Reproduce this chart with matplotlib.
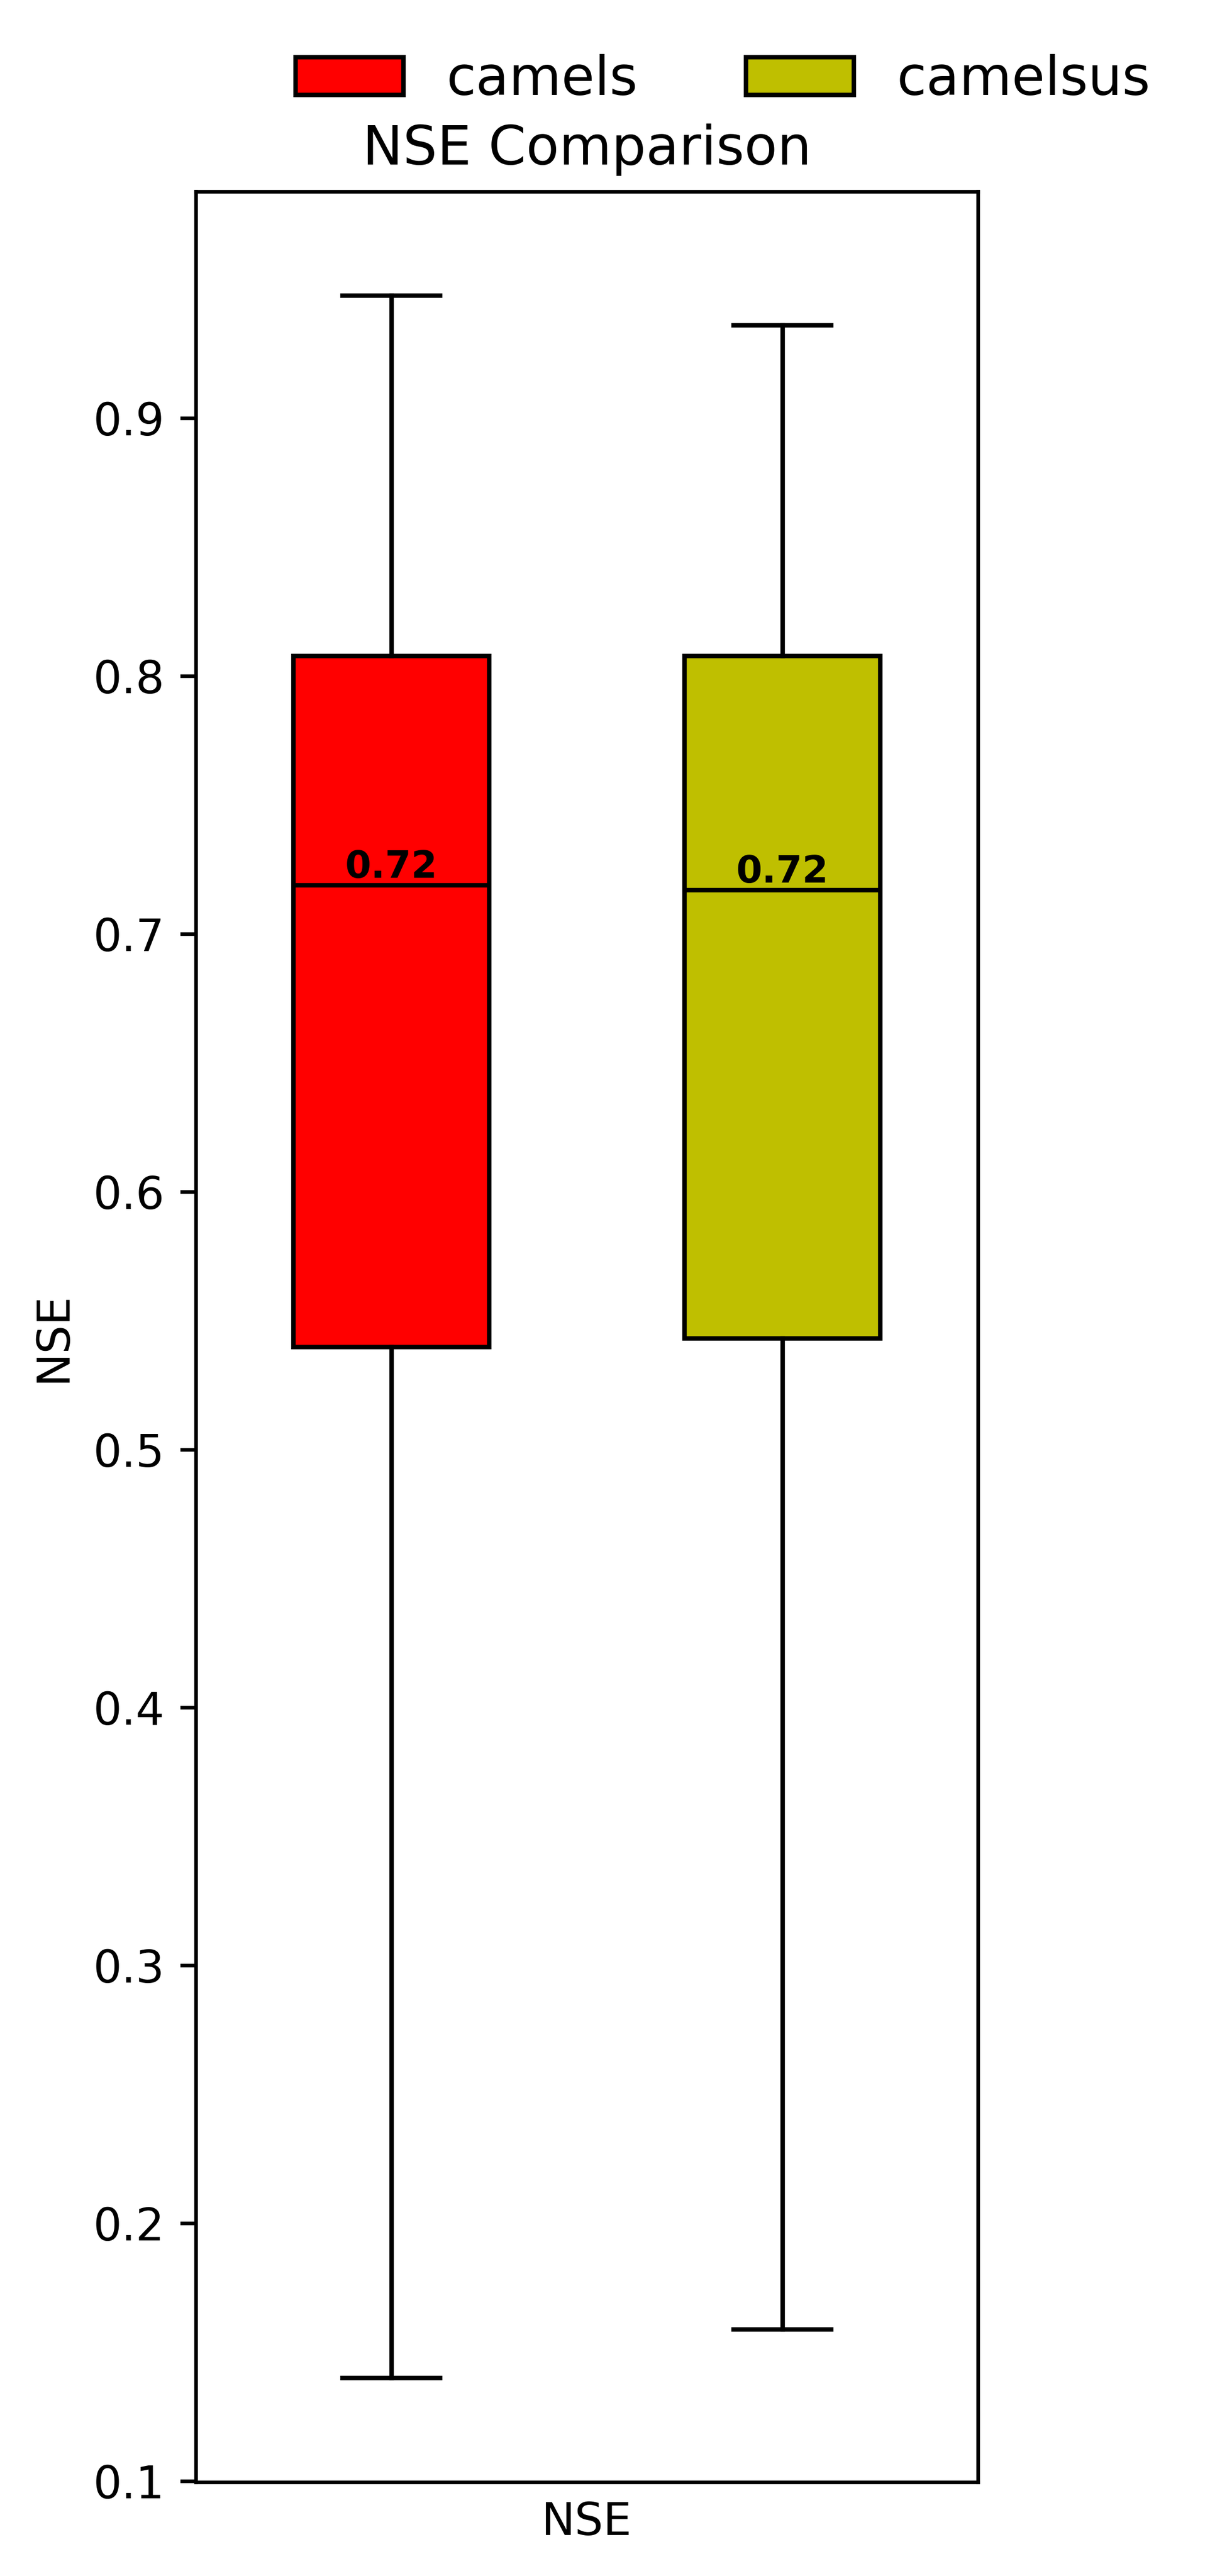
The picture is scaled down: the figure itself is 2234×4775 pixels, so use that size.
import numpy as np
import matplotlib
matplotlib.use("Agg")
import matplotlib.pyplot as plt
from matplotlib.patches import Patch

# box statistics
names = ['camels', 'camelsus']
colors = ['r', 'y']
whislo = [0.1400, 0.1588]
q1 = [0.5398, 0.5431]
med = [0.7188, 0.7170]
q3 = [0.8077, 0.8077]
whishi = [0.9475, 0.9360]
positions = [1, 2]

stats = []
for i in range(len(names)):
    stats.append({'label': names[i], 'whislo': whislo[i], 'q1': q1[i],
                  'med': med[i], 'q3': q3[i], 'whishi': whishi[i], 'fliers': []})

fig = plt.figure(figsize=(2234 / 600, 4775 / 600))
ax = fig.add_axes([0.1625, 0.0364, 0.8116 - 0.1625, 0.9257 - 0.0364])

bp = ax.bxp(stats, positions=positions, widths=0.5, patch_artist=True,
            showfliers=False, medianprops=dict(color='k'))
for box, c in zip(bp['boxes'], colors):
    box.set_facecolor(c)
    box.set_edgecolor('k')

for p, m in zip(positions, med):
    ax.text(p, m, f'{m:.2f}', ha='center', va='bottom',
            fontsize='small', fontweight='bold')

ax.set_xlim(0.5, 2.5)
ax.set_xticks([])
ax.set_xlabel('NSE')
ax.set_ylabel('NSE')
ax.set_title('NSE Comparison')

handles = [Patch(facecolor=c, edgecolor='k', label=n) for n, c in zip(names, colors)]
ax.legend(handles=handles, loc='center', bbox_to_anchor=(0.674, 1.0485),
          ncol=2, frameon=False, fontsize=12)

fig.savefig('out.png', dpi=600)
